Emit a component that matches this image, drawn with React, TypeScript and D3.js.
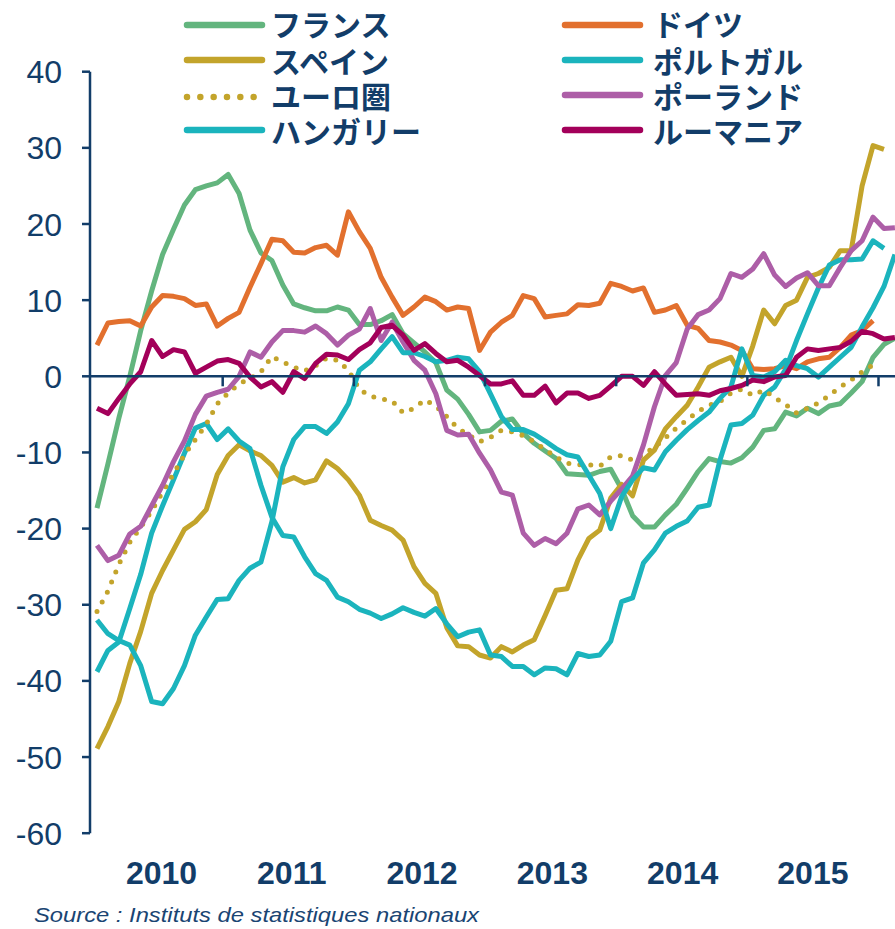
import React from 'react';
import * as d3 from 'd3';

// Monthly data, index 0 = Jan 2010
const yTicks = [40, 30, 20, 10, 0, -10, -20, -30, -40, -50, -60];
const years = ['2010', '2011', '2012', '2013', '2014', '2015'];

const france = [-17.3, -11.5, -5.5, 0.0, 6.0, 11.2, 16.0, 19.3, 22.5, 24.5, 25.0, 25.4, 26.5, 24.0, 19.2, 16.2, 15.2, 12.0, 9.5, 9.0,
  8.6, 8.6, 9.1, 8.7, 6.8, 6.8, 7.3, 8.1, 5.6, 4.4, 3.2, 1.8, -1.8, -3.0, -5.0, -7.3, -7.1, -5.9, -5.6, -7.5,
  -8.8, -9.8, -10.8, -12.8, -12.9, -13.0, -12.5, -12.2, -14.8, -18.3, -19.8, -19.8, -18.2, -16.8, -14.7, -12.5, -10.8, -11.2, -11.4, -10.7,
  -9.3, -7.1, -6.9, -4.7, -5.2, -4.2, -4.9, -3.9, -3.6, -2.2, -0.7, 2.5, 4.2, 5.0];

const germany = [4.1, 7.0, 7.2, 7.3, 6.6, 9.1, 10.6, 10.5, 10.2, 9.3, 9.5, 6.6, 7.6, 8.4, 11.7, 14.8, 18.0, 17.8, 16.3, 16.2,
  16.9, 17.2, 15.9, 21.6, 19.0, 16.8, 13.0, 10.4, 8.0, 9.1, 10.4, 9.8, 8.7, 9.1, 8.9, 3.4, 5.8, 7.1, 8.0, 10.6,
  10.2, 7.8, 8.0, 8.2, 9.4, 9.3, 9.6, 12.2, 11.8, 11.2, 11.6, 8.4, 8.7, 9.3, 6.7, 6.3, 4.7, 4.5, 4.1, 3.4,
  1.0, 0.9, 1.0, 1.4, 1.0, 1.9, 2.3, 2.5, 3.8, 5.4, 6.0, 7.3];

const spain = [-48.9, -46.0, -42.7, -37.7, -33.5, -28.5, -25.5, -22.8, -20.1, -19.1, -17.5, -12.9, -10.4, -9.0, -9.8, -10.4, -11.7, -13.9, -13.3, -14.0,
  -13.6, -11.1, -12.1, -13.6, -15.6, -18.9, -19.6, -20.2, -21.5, -25.0, -27.2, -28.5, -33.0, -35.4, -35.5, -36.6, -37.0, -35.5, -36.2, -35.3,
  -34.6, -31.4, -28.1, -27.9, -24.1, -21.3, -20.2, -16.0, -14.2, -15.7, -11.0, -9.7, -6.9, -5.3, -3.8, -1.4, 1.2, 1.9, 2.5, 0.0,
  4.0, 8.7, 6.9, 9.3, 10.0, 13.0, 13.5, 14.3, 16.5, 16.5, 25.0, 30.3, 29.8];

const portugal = [-38.8, -36.0, -34.9, -30.5, -26.0, -20.6, -17.0, -13.6, -10.1, -6.8, -6.2, -8.3, -6.9, -8.5, -9.5, -14.3, -18.5, -20.9, -21.1, -23.7,
  -25.9, -26.8, -29.0, -29.6, -30.6, -31.1, -31.8, -31.2, -30.4, -31.0, -31.5, -30.5, -32.5, -34.2, -33.6, -33.3, -36.6, -36.8, -38.1, -38.1,
  -39.2, -38.3, -38.4, -39.2, -36.4, -36.8, -36.6, -34.8, -29.6, -29.1, -24.5, -22.8, -20.6, -19.7, -19.0, -17.2, -16.9, -11.0, -6.4, -6.2,
  -5.1, -2.5, -1.4, 0.9, 4.7, 8.2, 11.6, 14.6, 15.3, 15.3, 15.4, 17.8, 16.8];

const eurozone = [-30.9, -28.2, -24.7, -21.8, -19.8, -17.7, -15.2, -12.8, -10.3, -8.3, -6.3, -3.6, -2.2, -1.0, -0.3, 0.6, 2.6, 1.9, 1.2, 0.7,
  1.4, 2.4, 2.1, 0.8, -1.7, -2.6, -3.0, -3.2, -4.8, -4.2, -3.1, -3.9, -5.3, -6.8, -7.7, -8.6, -8.0, -7.1, -7.3, -7.8,
  -8.6, -9.6, -10.6, -11.4, -11.6, -11.6, -11.8, -10.6, -10.4, -11.0, -10.3, -9.3, -8.1, -6.8, -5.7, -4.6, -3.8, -3.3, -2.2, -1.7,
  -2.5, -1.8, -2.8, -3.7, -4.8, -4.2, -3.5, -2.5, -1.4, -0.5, 0.6, 1.5];

const poland = [-22.2, -24.2, -23.5, -20.7, -19.7, -17.0, -14.3, -11.2, -8.5, -5.0, -2.6, -2.1, -1.7, 0.0, 3.2, 2.5, 4.5, 6.0, 6.0, 5.8,
  6.6, 5.6, 4.1, 5.4, 6.2, 8.9, 4.7, 7.1, 4.5, 2.1, 0.8, -2.3, -7.1, -7.7, -7.6, -10.1, -12.3, -15.2, -15.6, -20.6,
  -22.2, -21.3, -22.0, -20.6, -17.4, -16.9, -18.2, -16.4, -14.8, -13.1, -9.0, -4.0, 0.1, 1.8, 6.2, 8.1, 8.7, 10.2, 13.5, 13.0,
  14.1, 16.1, 13.3, 11.8, 12.9, 13.6, 11.9, 11.9, 14.3, 16.5, 17.8, 20.9, 19.4, 19.5];

const hungary = [-32.0, -33.8, -34.7, -35.3, -38.0, -42.7, -43.0, -41.0, -38.0, -34.0, -31.6, -29.3, -29.2, -26.8, -25.2, -24.4, -19.1, -11.9, -8.3, -6.6,
  -6.6, -7.5, -6.0, -3.6, 0.8, 1.9, 3.6, 5.2, 3.1, 3.1, 2.6, 1.9, 2.1, 2.5, 2.3, 0.6, -2.3, -5.3, -7.0, -7.0,
  -7.6, -8.5, -9.5, -10.3, -10.6, -13.0, -15.4, -20.0, -15.8, -13.6, -12.0, -12.3, -9.9, -8.4, -7.0, -5.8, -4.7, -2.9, -1.4, 3.6,
  0.1, -0.1, 0.6, 2.1, 1.4, 1.0, -0.1, 1.2, 2.5, 3.8, 6.5, 9.0, 11.8, 16.0];

const romania = [-4.2, -4.9, -2.9, -1.0, 0.6, 4.7, 2.6, 3.5, 3.2, 0.4, 1.2, 2.0, 2.2, 1.7, -0.1, -1.4, -0.7, -2.1, 0.6, -0.3,
  1.7, 2.9, 2.8, 2.2, 3.5, 4.4, 6.4, 6.7, 5.4, 3.4, 4.3, 3.0, 1.9, 2.1, 1.2, 0.1, -1.0, -1.0, -0.6, -2.5,
  -2.5, -1.3, -3.5, -2.2, -2.2, -2.9, -2.5, -1.3, 0.0, 0.0, -1.2, 0.6, -1.0, -2.5, -2.4, -2.3, -2.5, -1.9, -1.6, -1.2,
  -0.5, -0.7, -0.1, 0.1, 2.5, 3.6, 3.4, 3.6, 3.8, 4.6, 5.9, 5.6, 4.9, 5.1];

const C = {
  green: '#63b57e', orange: '#e2702e', gold: '#c3a42b', cyan: '#1bb4bd', purple: '#ad5ea7', wine: '#a3005a',
  navy: '#123d69',
};

type Series = { name: string; values: number[]; color: string; dotted?: boolean };

// drawing order (Excel series order)
const series: Series[] = [
  { name: 'フランス', values: france, color: C.green },
  { name: 'ドイツ', values: germany, color: C.orange },
  { name: 'スペイン', values: spain, color: C.gold },
  { name: 'ポルトガル', values: portugal, color: C.cyan },
  { name: 'ユーロ圏', values: eurozone, color: C.gold, dotted: true },
  { name: 'ポーランド', values: poland, color: C.purple },
  { name: 'ハンガリー', values: hungary, color: C.cyan },
  { name: 'ルーマニア', values: romania, color: C.wine },
];

const W = 895;
const H = 929;
const STEP = 10.93;
const x = d3.scaleLinear().domain([0, 72]).range([97, 97 + 72 * STEP]);
const y = d3.scaleLinear().domain([-60, 40]).range([833.2, 71.7]);
const labelX = d3.scaleLinear().domain([0, years.length - 1]).range([x(5.9), x(65.5)]);
const AXIS_X = 90;

const line = d3.line<number>().x((_, i) => x(i)).y((d) => y(d));

export default function App() {
  const legendRows = [23, 60, 95, 130];
  const legendCols = [
    { x1: 187, x2: 262, tx: 271 },
    { x1: 565, x2: 640, tx: 653 },
  ];
  // legend order: row-major, 2 columns
  const legendItems = series.map((s, i) => ({ s, col: i % 2, row: Math.floor(i / 2) }));
  const fontJP = '"Noto Sans CJK JP", "Noto Sans", sans-serif';
  const fontLat = '"Liberation Sans", Arial, sans-serif';
  return (
    <svg width={W} height={H} viewBox={`0 0 ${W} ${H}`}
      style={{ position: 'absolute', left: 0, top: 0, display: 'block', background: '#fff' }}>
      <rect x={0} y={0} width={W} height={H} fill="#fff" />
      {/* series */}
      {series.map((s) => (
        <path key={s.name} d={line(s.values) || ''} fill="none" stroke={s.color}
          strokeWidth={5} strokeLinejoin="round"
          strokeLinecap={s.dotted ? 'round' : 'butt'}
          strokeDasharray={s.dotted ? '0 11' : undefined} />
      ))}
      {/* y axis */}
      <line x1={AXIS_X} x2={AXIS_X} y1={y(40)} y2={y(-60)} stroke={C.navy} strokeWidth={2.5} />
      {yTicks.map((t) => (
        <g key={t}>
          <line x1={AXIS_X - 8} x2={AXIS_X} y1={y(t)} y2={y(t)} stroke={C.navy} strokeWidth={2.5} />
          <text x={62} y={y(t)} dy="0.36em" textAnchor="end" fontFamily={fontLat} fontSize={32} fill={C.navy}>{t}</text>
        </g>
      ))}
      {/* zero line with year ticks */}
      <line x1={AXIS_X} x2={W} y1={y(0)} y2={y(0)} stroke={C.navy} strokeWidth={2.5} />
      {d3.range(1, 7).map((k) => (
        <line key={k} x1={x(12 * k - 0.5)} x2={x(12 * k - 0.5)} y1={y(0)} y2={y(0) + 10} stroke={C.navy} strokeWidth={2.5} />
      ))}
      {years.map((yr, i) => (
        <text key={yr} x={labelX(i)} y={884} textAnchor="middle" fontFamily={fontLat} fontWeight="bold" fontSize={32} fill={C.navy}>{yr}</text>
      ))}
      {/* legend */}
      {legendItems.map(({ s, col, row }) => {
        const c = legendCols[col];
        const ly = legendRows[row];
        return (
          <g key={'lg' + s.name}>
            {s.dotted ? (
              <line x1={c.x1} x2={c.x1 + 67} y1={ly + 2} y2={ly + 2} stroke={s.color} strokeWidth={6.5}
                strokeLinecap="round" strokeDasharray="0 13.33" />
            ) : (
              <line x1={c.x1} x2={c.x2} y1={row === 0 ? 25 : ly} y2={row === 0 ? 25 : ly} stroke={s.color} strokeWidth={6.5} strokeLinecap="round" />
            )}
            <text x={c.tx} y={ly} dominantBaseline="central" fontFamily={fontJP} fontWeight="bold" fontSize={30} fill={C.navy}>{s.name}</text>
          </g>
        );
      })}
      <text x={34} y={922} fontFamily={fontLat} fontStyle="italic" fontSize={21} fill="#1a4573" textLength={445} lengthAdjust="spacingAndGlyphs">Source : Instituts de statistiques nationaux</text>
    </svg>
  );
}
